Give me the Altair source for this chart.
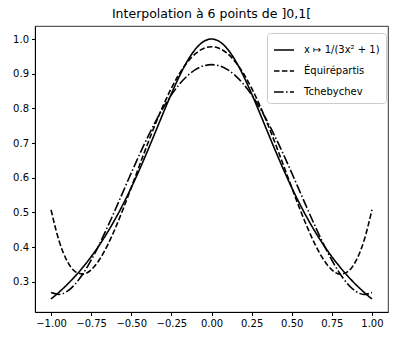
import altair as alt
import pandas as pd

x_vals = [-1.0, -0.95, -0.9, -0.85, -0.8, -0.75, -0.7, -0.65, -0.6, -0.55, -0.5,
          -0.45, -0.4, -0.35, -0.3, -0.25, -0.2, -0.15, -0.1, -0.05, 0.0,
          0.05, 0.1, 0.15, 0.2, 0.25, 0.3, 0.35, 0.4, 0.45, 0.5,
          0.55, 0.6, 0.65, 0.7, 0.75, 0.8, 0.85, 0.9, 0.95, 1.0]

f_vals = [0.25, 0.26972, 0.29155, 0.31571, 0.34247, 0.37209, 0.40486, 0.44101, 0.48077, 0.52425, 0.57143,
          0.62208, 0.67568, 0.73126, 0.78740, 0.84211, 0.89286, 0.93677, 0.97087, 0.99256, 1.0,
          0.99256, 0.97087, 0.93677, 0.89286, 0.84211, 0.78740, 0.73126, 0.67568, 0.62208, 0.57143,
          0.52425, 0.48077, 0.44101, 0.40486, 0.37209, 0.34247, 0.31571, 0.29155, 0.26972, 0.25]

equi_vals = [0.50728, 0.41767, 0.35971, 0.32914, 0.32190, 0.33420, 0.36245, 0.40330, 0.45363, 0.51056, 0.57143,
             0.63382, 0.69552, 0.75459, 0.80929, 0.85811, 0.89978, 0.93328, 0.95778, 0.97271, 0.97773,
             0.97271, 0.95778, 0.93328, 0.89978, 0.85811, 0.80929, 0.75459, 0.69552, 0.63382, 0.57143,
             0.51056, 0.45363, 0.40330, 0.36245, 0.33420, 0.32190, 0.32914, 0.35971, 0.41767, 0.50728]

cheb_vals = [0.26849, 0.26317, 0.27199, 0.29276, 0.32341, 0.36199, 0.40665, 0.45570, 0.50752, 0.56064, 0.61370,
             0.66545, 0.71477, 0.76066, 0.80223, 0.83870, 0.86943, 0.89388, 0.91164, 0.92242, 0.92603,
             0.92242, 0.91164, 0.89388, 0.86943, 0.83870, 0.80223, 0.76066, 0.71477, 0.66545, 0.61370,
             0.56064, 0.50752, 0.45570, 0.40665, 0.36199, 0.32341, 0.29276, 0.27199, 0.26317, 0.26849]

series_names = ["x ↦ 1/(3x² + 1)", "Équirépartis", "Tchebychev"]
x_ticks = [-1.0, -0.75, -0.5, -0.25, 0.0, 0.25, 0.5, 0.75, 1.0]
y_ticks = [0.3, 0.4, 0.5, 0.6, 0.7, 0.8, 0.9, 1.0]

rows = []
for name, ys in zip(series_names, [f_vals, equi_vals, cheb_vals]):
    for i, (xv, yv) in enumerate(zip(x_vals, ys)):
        rows.append({"x": xv, "y": yv, "serie": name, "order": i})
df = pd.DataFrame(rows)

FONT = "DejaVu Sans"

chart = alt.Chart(df).mark_line(color="black", strokeWidth=1.6, interpolate="monotone", clip=True).encode(
    x=alt.X("x:Q", scale=alt.Scale(domain=[-1.1, 1.1], nice=False, zero=False),
            axis=alt.Axis(values=x_ticks, format=".2f", title=None, grid=False,
                          tickSize=3.5, tickColor="black", domainColor="black",
                          labelFontSize=10, labelColor="black", labelFont=FONT,
                          labelPadding=3, labelFlush=False)),
    y=alt.Y("y:Q", scale=alt.Scale(domain=[0.2125, 1.0375], nice=False, zero=False),
            axis=alt.Axis(values=y_ticks, format=".1f", title=None, grid=False,
                          tickSize=3.5, tickColor="black", domainColor="black",
                          labelFontSize=10, labelColor="black", labelFont=FONT,
                          labelPadding=3)),
    strokeDash=alt.StrokeDash("serie:N",
        scale=alt.Scale(domain=series_names, range=[[1, 0], [5.5, 2.4], [9.6, 2.4, 1.5, 2.4]]),
        legend=alt.Legend(title=None, orient="none", legendX=232, legendY=7,
                          symbolType="stroke", symbolSize=400, symbolStrokeColor="black",
                          symbolStrokeWidth=1.6, labelFontSize=10, labelFont=FONT,
                          labelColor="black", labelOffset=9, rowPadding=5,
                          padding=6, strokeColor="#cccccc", fillColor="white",
                          cornerRadius=3)),
    order="order:Q",
).properties(
    width=353, height=286,
    title=alt.TitleParams("Interpolation à 6 points de ]0,1[", fontSize=12.5, font=FONT,
                          fontWeight="normal", color="black", anchor="middle", offset=6),
    autosize=alt.AutoSizeParams(type="none"),
    padding={"left": 35, "top": 26, "right": 5, "bottom": 27},
).configure_view(stroke="black", strokeWidth=0.8)

chart.save("out.html", embed_options={"renderer": "svg", "actions": False})
